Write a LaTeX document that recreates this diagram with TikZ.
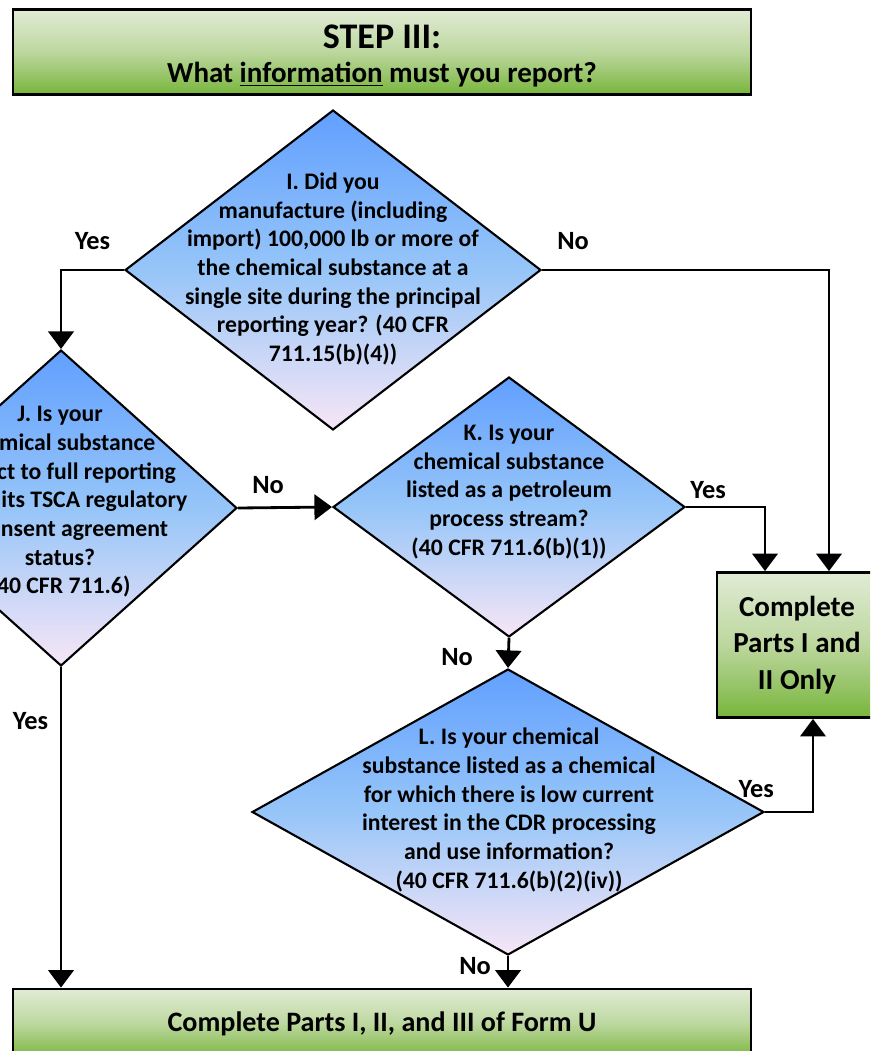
\documentclass[tikz,border=0pt]{standalone}
\usepackage{fontspec}
\setmainfont{Carlito}
\usetikzlibrary{arrows.meta,shapes.geometric,positioning}

\definecolor{qtop}{RGB}{98,160,255}
\definecolor{qmid}{RGB}{150,197,248}
\definecolor{qbot}{RGB}{247,230,246}
\definecolor{gtop}{RGB}{225,235,213}
\definecolor{gmid}{RGB}{188,215,158}
\definecolor{gbot}{RGB}{120,181,60}

\begin{document}
\begin{tikzpicture}[x=0.02cm,y=-0.02cm,->,>={Triangle[length=10pt,width=14.5pt]},
    line width=1.6pt,
    question node/.style={diamond,draw,line width=1.2pt,inner sep=0pt,
        top color=qtop,bottom color=qbot,middle color=qmid},
    question text/.style={align=center,inner sep=0pt,
        font=\fontsize{13.5}{16.3}\selectfont\bfseries},
    answer node/.style={rectangle,draw,line width=1.6pt,align=center,
        top color=gtop,bottom color=gbot,middle color=gmid},
    branch/.style={inner sep=2pt,font=\fontsize{15}{18}\selectfont\bfseries}]
  \useasboundingbox (0,0) rectangle (870,1051);
  \clip (0,0) rectangle (870,1051);

  % header
  \node[answer node,minimum width=14.76cm,minimum height=1.7cm] (step) at (382,52) {};
  \node[font=\fontsize{20.5}{24}\selectfont\bfseries] (step-title) at (382,37) {STEP III:};
  \node[font=\fontsize{16.5}{20}\selectfont\bfseries] (step-q) at (382,75)
    {What \underline{information} must you report?};

  % questions
  \node[question node,minimum width=8.32cm,minimum height=6.4cm] (I) at (333,270) {};
  \node[question node,minimum width=7.04cm,minimum height=6.32cm] (J) at (61,508) {};
  \node[question node,minimum width=7.04cm,minimum height=5.2cm] (K) at (509,507) {};
  \node[question node,minimum width=10.24cm,minimum height=5.72cm] (L) at (508,812) {};

  \node[question text] (I-q) at (333,269) {I. Did you\\manufacture (including\\import) 100,000 lb or more of\\the chemical substance at a\\single site during the principal\\reporting year? (40 CFR\\711.15(b)(4))};
  \node[question text] (J-q) at (60,502) {J. Is your\\chemical substance\\subject to full reporting\\due to its TSCA regulatory\\or consent agreement\\status?\\(40 CFR 711.6)};
  \node[question text] (K-q) at (509,492) {K. Is your\\chemical substance\\listed as a petroleum\\process stream?\\(40 CFR 711.6(b)(1))};
  \node[question text] (L-q) at (509,810) {L. Is your chemical\\substance listed as a chemical\\for which there is low current\\interest in the CDR processing\\and use information?\\(40 CFR 711.6(b)(2)(iv))};

  % results
  \node[answer node,minimum width=3.2cm,minimum height=2.9cm,
    font=\fontsize{16.5}{21}\selectfont\bfseries] (partial) at (797,645) {Complete\\Parts I and\\II Only};
  \node[answer node,minimum width=14.76cm,minimum height=1.4cm,
    font=\fontsize{16}{19}\selectfont\bfseries] (full) at (382,1024) {Complete Parts I, II, and III of Form U};

  \coordinate (partial-a) at ([xshift=-0.64cm]partial.north);
  \coordinate (partial-b) at ([xshift=0.64cm]partial.north);
  \coordinate (partial-c) at ([xshift=0.32cm]partial.south);

  % connectors
  \draw (I.west) -| node[branch,pos=0.25,above=9pt] (yes-I) {Yes} (J.north);
  \draw (I.east) -| node[branch,pos=0.054,above=9pt] (no-I) {No} (partial-b);
  \draw (J.east) -- node[branch,pos=0.32,above=5pt] (no-J) {No} (K.west);
  \draw (K.east) -| node[branch,pos=0.14,above=2.2pt] (yes-K) {Yes} (partial-a);
  \draw (K.south) -- node[branch,pos=0.64,left=17.4pt] (no-K) {No} (L.north);
  \draw (L.east) -| node[branch,pos=0,above=5.6pt,xshift=-5pt] (yes-L) {Yes} (partial-c);
  \draw (J.south) -- node[branch,pos=0.17,left=4.5pt] (yes-J) {Yes} (J.south |- full.north);
  \draw (L.south) -- node[branch,pos=0.32,left=7pt] (no-L) {No} (L.south |- full.north);
\end{tikzpicture}
\end{document}
